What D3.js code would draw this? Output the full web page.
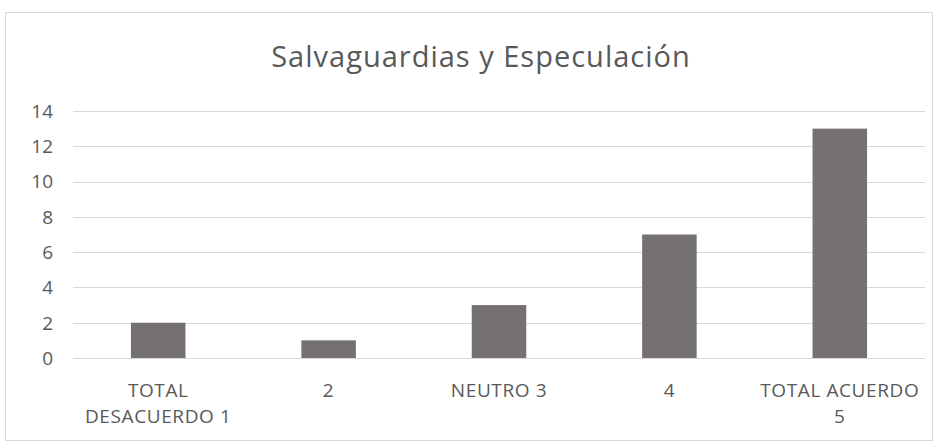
<!DOCTYPE html>
<html lang="es">
<head>
    <meta charset="UTF-8">
    <title>Salvaguardias y Especulación</title>
    <script src="https://d3js.org/d3.v7.min.js"></script>
    <style>
        body { margin: 0; background: #fff; }
        text { font-family: "Open Sans", sans-serif; fill: #595959; }
        .grid line { stroke: #d9d9d9; stroke-width: 1; }
        .bar { fill: #767171; }
    </style>
</head>
<body>
    <div id="chart"></div>
    <script>
        const categories = ["TOTAL DESACUERDO 1", "2", "NEUTRO 3", "4", "TOTAL ACUERDO 5"];
        const values = [2, 1, 3, 7, 13];
        const yTicks = [0, 2, 4, 6, 8, 10, 12, 14];
        const title = "Salvaguardias y Especulación";

        const width = 938, height = 442;
        const margin = { top: 111, right: 12, bottom: 84, left: 73 };

        const svg = d3.select("#chart").append("svg")
            .attr("width", width)
            .attr("height", height);

        // chart border
        svg.append("rect")
            .attr("x", 5.5).attr("y", 12.5)
            .attr("width", 927).attr("height", 428)
            .attr("fill", "#fff")
            .attr("stroke", "#d9d9d9");

        svg.append("text")
            .attr("x", 481)
            .attr("y", 67)
            .attr("text-anchor", "middle")
            .style("font-size", "29px")
            .style("letter-spacing", "1px")
            .text(title);

        const x = d3.scaleBand()
            .domain(categories)
            .range([margin.left, width - margin.right - 1])
            .paddingInner(0.68)
            .paddingOuter(0.34);

        const y = d3.scaleLinear()
            .domain([0, 14])
            .range([height - margin.bottom, margin.top]);

        // gridlines
        svg.append("g")
            .attr("class", "grid")
            .selectAll("line")
            .data(yTicks)
            .join("line")
            .attr("x1", margin.left)
            .attr("x2", width - margin.right - 1)
            .attr("y1", d => Math.round(y(d)) + 0.5)
            .attr("y2", d => Math.round(y(d)) + 0.5);

        // y labels
        svg.append("g")
            .selectAll("text")
            .data(yTicks)
            .join("text")
            .attr("x", 53)
            .attr("y", d => y(d))
            .attr("dy", "0.36em")
            .attr("text-anchor", "end")
            .style("font-size", "19px")
            .text(d => d);

        svg.selectAll(".bar")
            .data(values)
            .join("rect")
            .attr("class", "bar")
            .attr("x", (d, i) => x(categories[i]))
            .attr("y", d => y(d))
            .attr("width", x.bandwidth())
            .attr("height", d => y(0) - y(d));

        // x labels, wrapped to band width
        const maxW = 172;
        const xl = svg.append("g")
            .selectAll("text")
            .data(categories)
            .join("text")
            .attr("x", d => x(d) + x.bandwidth() / 2)
            .attr("y", 397)
            .attr("text-anchor", "middle")
            .style("font-size", "19px")
            .style("letter-spacing", "0.6px");

        xl.each(function (d) {
            const t = d3.select(this);
            const words = d.split(" ");
            let line = [];
            let tspan = t.append("tspan").attr("x", t.attr("x")).attr("dy", 0);
            words.forEach(w => {
                line.push(w);
                tspan.text(line.join(" "));
                if (tspan.node().getComputedTextLength() > maxW && line.length > 1) {
                    line.pop();
                    tspan.text(line.join(" "));
                    line = [w];
                    tspan = t.append("tspan").attr("x", t.attr("x")).attr("dy", 26).text(w);
                }
            });
        });
    </script>
</body>
</html>
